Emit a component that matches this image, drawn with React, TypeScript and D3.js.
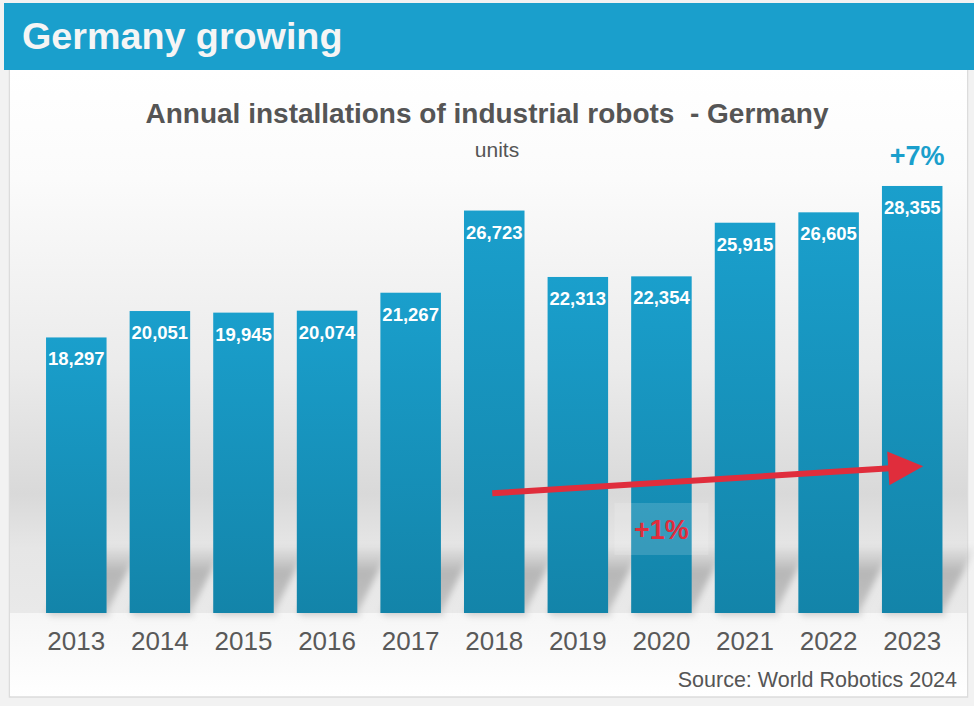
import React from "react";
import * as d3 from "d3";

const years = ["2013","2014","2015","2016","2017","2018","2019","2020","2021","2022","2023"];
const installs = [18297, 20051, 19945, 20074, 21267, 26723, 22313, 22354, 25915, 26605, 28355];
const headerTitle = "Germany growing";
const chartTitle = "Annual installations of industrial robots  - Germany";
const unitLabel = "units";
const sourceLabel = "Source: World Robotics 2024";
const growthLast = "+7%";
const growthTrend = "+1%";

const W = 974, H = 706;
const baseY = 613;

export default function App() {
  const x = d3.scaleBand<string>().domain(years).range([34.5, 954]).paddingInner(0.276).paddingOuter(0.138);
  const y = d3.scaleLinear().domain([0, 30000]).range([baseY, baseY - 30000 * 0.01506]);
  const bw = x.bandwidth();
  const fmt = d3.format(",");
  const font = "'Liberation Sans', Arial, Helvetica, sans-serif";

  const last = years[years.length - 1];
  const arrowX0 = (x("2018") as number) + bw / 2 - 2;
  const arrowX1 = (x(last) as number) + bw / 2 + 11;
  const arrowY0 = y(7950);
  const arrowY1 = y(9750);
  const ang = Math.atan2(arrowY1 - arrowY0, arrowX1 - arrowX0);
  const headLen = 35, headHalf = 17;
  const bx = arrowX1 - headLen * Math.cos(ang);
  const by = arrowY1 - headLen * Math.sin(ang);
  const px = -Math.sin(ang), py = Math.cos(ang);
  const head = [
    [arrowX1, arrowY1],
    [bx + px * headHalf, by + py * headHalf],
    [bx - px * headHalf, by - py * headHalf],
  ];
  const boxX = (x("2020") as number) + bw / 2 - 47;

  return (
    <svg width={W} height={H} style={{ position: "absolute", left: 0, top: 0, display: "block" }}>
      <defs>
        <linearGradient id="plotBg" x1="0" y1="70" x2="0" y2={baseY} gradientUnits="userSpaceOnUse">
          <stop offset="0" stopColor="#ffffff" />
          <stop offset="0.2" stopColor="#fbfbfb" />
          <stop offset="0.55" stopColor="#ebebeb" />
          <stop offset="0.78" stopColor="#d9d9d9" />
          <stop offset="0.88" stopColor="#e6e6e6" />
          <stop offset="1" stopColor="#e9e9e9" />
        </linearGradient>
        <linearGradient id="belowBg" x1="0" y1={baseY} x2="0" y2="697" gradientUnits="userSpaceOnUse">
          <stop offset="0" stopColor="#f6f6f6" />
          <stop offset="1" stopColor="#ffffff" />
        </linearGradient>
        <linearGradient id="barGrad" x1="0" y1="0" x2="0" y2="1">
          <stop offset="0" stopColor="#1a9fcc" />
          <stop offset="1" stopColor="#1384a9" />
        </linearGradient>
        <linearGradient id="shadowGrad" x1="0" y1="0" x2="0" y2="1">
          <stop offset="0" stopColor="#b4b4b4" stopOpacity="0" />
          <stop offset="0.4" stopColor="#b4b4b4" stopOpacity="0.95" />
          <stop offset="1" stopColor="#c0c0c0" stopOpacity="0.95" />
        </linearGradient>
        <filter id="blur3" x="-20%" y="-20%" width="140%" height="140%">
          <feGaussianBlur stdDeviation="3" />
        </filter>
      </defs>

      {/* outer background */}
      <rect x={0} y={0} width={W} height={H} fill="#f2f2f2" />
      {/* panel */}
      <rect x={9.5} y={60} width={958} height={637} fill="#ffffff" stroke="#dcdcdc" strokeWidth={1.5} />
      <rect x={10} y={70} width={957} height={baseY - 70} fill="url(#plotBg)" />
      <rect x={10} y={baseY} width={957} height={83} fill="url(#belowBg)" />

      {/* header */}
      <rect x={4} y={3} width={970} height={67} fill="#1a9fcc" />
      <text x={22} y={49} fill="#f5f5f5" fontFamily={font} fontWeight="bold" fontSize={37.7}>{headerTitle}</text>

      {/* chart title */}
      <text x={487} y={123} textAnchor="middle" fill="#555555" fontFamily={font} fontWeight="bold" fontSize={28} style={{ whiteSpace: "pre" }} xmlSpace="preserve">{chartTitle}</text>
      <text x={497} y={157} textAnchor="middle" fill="#555555" fontFamily={font} fontSize={21}>{unitLabel}</text>

      {/* shadows */}
      <g filter="url(#blur3)">
        {years.map((yr) => {
          const x0 = x(yr) as number;
          const x1 = x0 + bw;
          const D = 34, Hs = 68;
          return (
            <polygon
              key={"s" + yr}
              points={`${x0},${baseY} ${x1},${baseY} ${x1 + D},${baseY - Hs} ${x0 + D},${baseY - Hs}`}
              fill="url(#shadowGrad)"
            />
          );
        })}
        {years.map((yr) => (
          <rect key={"b" + yr} x={(x(yr) as number) + 4} y={baseY - 2} width={bw} height={6} fill="#d0d0d0" opacity={0.6} />
        ))}
      </g>

      {/* bars */}
      {years.map((yr, i) => (
        <rect key={yr} x={x(yr)} y={y(installs[i])} width={bw} height={baseY - y(installs[i])} fill="url(#barGrad)" />
      ))}

      {/* value labels */}
      {years.map((yr, i) => (
        <text
          key={"v" + yr}
          x={(x(yr) as number) + bw / 2}
          y={y(installs[i]) + 28}
          textAnchor="middle"
          fill="#ffffff"
          fontFamily={font}
          fontWeight="bold"
          fontSize={18.5}
        >
          {fmt(installs[i])}
        </text>
      ))}

      {/* x labels */}
      {years.map((yr) => (
        <text
          key={"x" + yr}
          x={(x(yr) as number) + bw / 2}
          y={650}
          textAnchor="middle"
          fill="#595959"
          fontFamily={font}
          fontSize={26}
        >
          {yr}
        </text>
      ))}

      {/* trend arrow */}
      <line x1={arrowX0} y1={arrowY0} x2={bx + 2 * Math.cos(ang)} y2={by + 2 * Math.sin(ang)} stroke="#e02d3c" strokeWidth={6} />
      <polygon points={head.map((p) => p.join(",")).join(" ")} fill="#e02d3c" />

      {/* +1% box */}
      <rect x={boxX} y={503} width={94} height={52} fill="#ffffff" opacity={0.15} />
      <text x={boxX + 47} y={539} textAnchor="middle" fill="#e02d3c" fontFamily={font} fontWeight="bold" fontSize={27}>{growthTrend}</text>

      {/* +7% */}
      <text x={(x(last) as number) + bw / 2 + 5} y={165} textAnchor="middle" fill="#1a9fcc" fontFamily={font} fontWeight="bold" fontSize={27}>{growthLast}</text>

      {/* source */}
      <text x={957} y={687} textAnchor="end" fill="#555555" fontFamily={font} fontSize={21.5}>{sourceLabel}</text>
    </svg>
  );
}
